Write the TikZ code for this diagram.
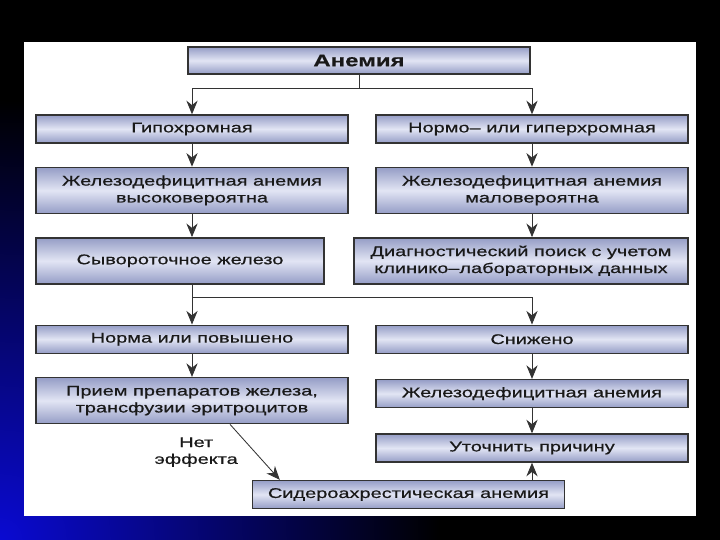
\documentclass[tikz,border=0pt]{standalone}
\usepackage{fontspec}
\setmainfont{Liberation Sans}[FakeStretch=1.42, FakeBold=0.6]
\usetikzlibrary{arrows.meta,positioning,calc}
\definecolor{boxdark}{HTML}{959DC6}
\definecolor{boxlight}{HTML}{E2E5F4}
\definecolor{slideblue}{HTML}{0A0AD2}

\begin{document}
\begin{tikzpicture}[
x=0.25mm, y=0.25mm,
node distance=5.75mm and 6mm,
box/.style={draw=black!80, line width=1pt, align=center, minimum height=7mm, minimum width=78mm, inner sep=1pt, font=\fontsize{10}{12}\selectfont, text=black!90, top color=boxdark, bottom color=boxdark, middle color=boxlight},
tall/.style={minimum height=11.5mm},
arrow/.style={-{Stealth[length=3.4mm, width=2.8mm]}, line width=0.6pt, draw=black!80}
]
% slide background
\fill[black] (0,0) rectangle (720,540);
\begin{scope}
\clip (0,0) rectangle (720,540);
\shade[inner color=slideblue, outer color=black] (0,0) circle (440);
\end{scope}
\fill[white] (24,24) rectangle (696,498);
\useasboundingbox (0,0) rectangle (720,540);

\node[box, minimum width=85.5mm, minimum height=6.75mm, font=\fontsize{12}{14}\selectfont\bfseries] (anemia) at (359,479.5) {Анемия};
\node[box] (hypo) at (192,411) {Гипохромная};
\node[box] (normo) at (532,411) {Нормо– или гиперхромная};
\node[box, tall, below=of hypo] (ida_high) {Железодефицитная анемия\\высоковероятна};
\node[box, tall, below=of normo] (ida_low) {Железодефицитная анемия\\маловероятна};
\node[box, tall, minimum width=72mm, below=of ida_high.south west, anchor=north west] (serum) {Сывороточное железо};
\node[box, tall, minimum width=83.5mm, below=of ida_low.south east, anchor=north east] (diag) {Диагностический поиск с учетом\\клинико–лабораторных данных};

\node[box, below=10mm of serum.south west, anchor=north west] (norm) {Норма или повышено};
\node[box, below=10mm of diag.south east, anchor=north east] (low) {Снижено};
\node[box, tall, below=of norm] (iron) {Прием препаратов железа,\\трансфузии эритроцитов};
\node[box, below=6.25mm of low] (ida) {Железодефицитная анемия};
\node[box, below=6.25mm of ida] (cause) {Уточнить причину};
\node[box] (sidero) at (408.5,45.5) {Сидероахрестическая анемия};

\draw[arrow] (anemia.south) -- ++(0,-14) -| (hypo.north);
\draw[arrow] (anemia.south) -- ++(0,-14) -| (normo.north);
\draw[arrow] (hypo) -- (ida_high);
\draw[arrow] (normo) -- (ida_low);
\draw[arrow] (ida_high.south) -- (ida_high.south |- serum.north);
\draw[arrow] (ida_low.south) -- (ida_low.south |- diag.north);
\draw[arrow] (norm.north |- serum.south) -- (norm.north);
\draw[arrow] ($(norm.north |- serum.south)+(0,-13)$) -| (low.north);
\draw[arrow] (norm) -- (iron);
\draw[arrow] (low) -- (ida);
\draw[arrow] (ida) -- (cause);
\draw[arrow] (sidero.north -| cause) -- (cause.south);
\draw[arrow] ($(iron.south)+(38,0)$) -- node[midway, left=3mm, align=center, font=\fontsize{10}{12}\selectfont, text=black!90] (noeffect) {Нет\\эффекта} ($(sidero.north west)+(28,0)$);
\end{tikzpicture}
\end{document}
